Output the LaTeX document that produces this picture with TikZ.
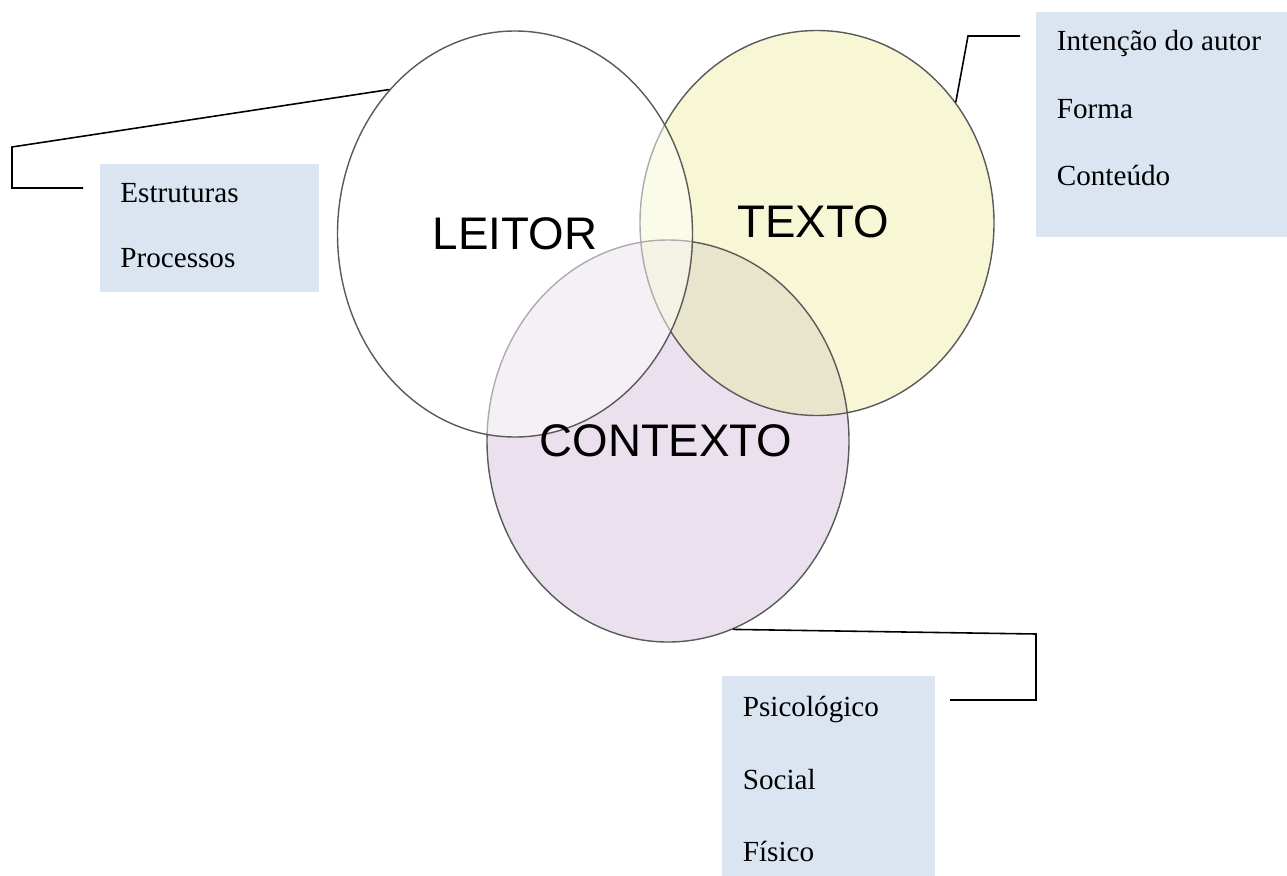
\documentclass[tikz,border=0pt]{standalone}
\usepackage{fontspec}
\setmainfont{Liberation Serif}
\setsansfont{Liberation Sans}
\usepackage{tikz}
\usepackage{xcolor}
\usetikzlibrary{shapes.geometric}
\definecolor{boxblue}{RGB}{219,229,241}
\definecolor{textoyellow}{RGB}{247,247,213}
\definecolor{contextolilac}{RGB}{235,224,238}
\definecolor{overlapolive}{RGB}{233,229,204}
\definecolor{rimgray}{RGB}{90,90,90}

\begin{document}
\begin{tikzpicture}[x=1cm,y=1cm,every node/.style={font=\fontsize{16.6}{20}\selectfont},
  venn/.style={ellipse,draw=rimgray,line width=0.8pt,inner sep=0pt},
  bigword/.style={font=\sffamily\fontsize{26}{30}\selectfont,inner sep=0pt},
  item/.style={anchor=base west,inner sep=0pt},
  leader/.style={draw=black,line width=0.9pt}]
\useasboundingbox (0,0) rectangle (25.74,-17.52);
\fill[textoyellow] (16.34,-4.46) ellipse (3.54 and 3.85);
\fill[contextolilac] (13.36,-8.82) ellipse (3.62 and 4.02);
\begin{scope}
\clip (16.34,-4.46) ellipse (3.54 and 3.85);
\fill[overlapolive] (13.36,-8.82) ellipse (3.62 and 4.02);
\end{scope}
\node[venn,minimum width=7.08cm,minimum height=7.70cm] (texto) at (16.34,-4.46) {};
\node[venn,minimum width=7.24cm,minimum height=8.04cm] (contexto) at (13.36,-8.82) {};
\node[venn,minimum width=7.10cm,minimum height=8.12cm,fill=white,fill opacity=0.5] (leitor) at (10.30,-4.68) {};
\node[bigword] (leitorword) at (10.30,-4.68) {LEITOR};
\node[bigword] (textoword) at (16.26,-4.44) {TEXTO};
\node[bigword] (contextoword) at (13.32,-8.82) {CONTEXTO};
\fill[boxblue] (2.00,-3.28) rectangle (6.38,-5.84);
\node[item] (estruturas) at (2.40,-4.05) {Estruturas};
\node[item] (processos) at (2.40,-5.34) {Processos};
\fill[boxblue] (20.72,-0.24) rectangle (25.74,-4.74);
\node[item] (intencao) at (21.13,-1.00) {Intenção do autor};
\node[item] (forma) at (21.13,-2.37) {Forma};
\node[item] (conteudo) at (21.13,-3.70) {Conteúdo};
\fill[boxblue] (14.44,-13.52) rectangle (18.70,-17.52);
\node[item] (psicologico) at (14.85,-14.33) {Psicológico};
\node[item] (social) at (14.85,-15.78) {Social};
\node[item] (fisico) at (14.85,-17.22) {Físico};
\coordinate (leitorbend) at (0.24,-2.94);
\coordinate (leitorfoot) at (0.24,-3.76);
\coordinate (leitorend) at (1.66,-3.76);
\draw[leader] (leitor.131.6) -- (leitorbend) -- (leitorfoot) -- (leitorend);
\coordinate (textobend) at (19.36,-0.72);
\coordinate (textoend) at (20.40,-0.72);
\draw[leader] (texto.41) -- (textobend) -- (textoend);
\coordinate (contextobend) at (20.72,-12.68);
\coordinate (contextofoot) at (20.72,-14.00);
\coordinate (contextoend) at (19.00,-14.00);
\draw[leader] (contexto.289.4) -- (contextobend) -- (contextofoot) -- (contextoend);
\end{tikzpicture}
\end{document}
